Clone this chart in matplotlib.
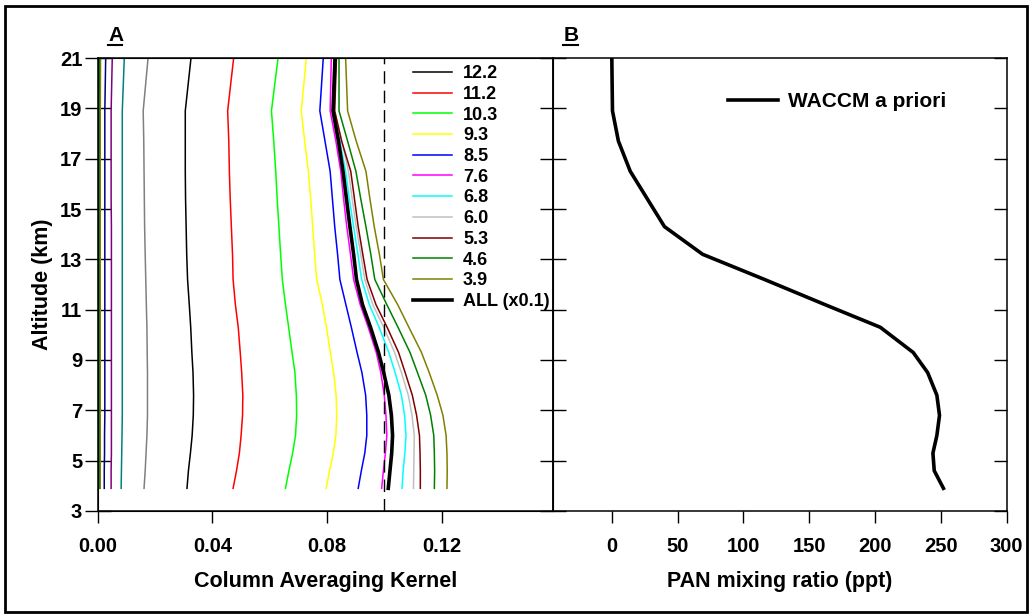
import matplotlib
matplotlib.use("Agg")
import matplotlib.pyplot as plt
from matplotlib.patches import Rectangle

plt.rcParams['font.family'] = ['Liberation Sans', 'DejaVu Sans']
plt.rcParams['font.weight'] = 'bold'

# altitude grid (km)
alt = [3.9, 4.6, 5.3, 6.0, 6.8, 7.6, 8.5, 9.3, 10.3, 11.2, 12.2, 13.2, 14.3, 15.4, 16.5, 17.7, 18.9, 21.0]

# column averaging kernels, labelled layers
layer_labels = ['12.2', '11.2', '10.3', '9.3', '8.5', '7.6', '6.8', '6.0', '5.3', '4.6', '3.9']
layer_colors = ['#000000', '#FF0000', '#00FF00', '#FFFF00', '#0000FF', '#FF00FF',
                '#00FFFF', '#C0C0C0', '#800000', '#008000', '#808000']
ak_122 = [0.0311, 0.0316, 0.0323, 0.0329, 0.0333, 0.0334, 0.0332, 0.0328, 0.0324, 0.0319, 0.0313, 0.0310, 0.0308, 0.0306, 0.0305, 0.0305, 0.0305, 0.0325]
ak_112 = [0.0472, 0.0484, 0.0494, 0.0500, 0.0505, 0.0506, 0.0502, 0.0497, 0.0490, 0.0480, 0.0472, 0.0470, 0.0466, 0.0462, 0.0459, 0.0457, 0.0453, 0.0474]
ak_103 = [0.0655, 0.0667, 0.0680, 0.0690, 0.0694, 0.0693, 0.0688, 0.0678, 0.0666, 0.0655, 0.0644, 0.0638, 0.0632, 0.0626, 0.0621, 0.0614, 0.0606, 0.0629]
ak_93 = [0.0797, 0.0809, 0.0822, 0.0831, 0.0834, 0.0832, 0.0823, 0.0812, 0.0798, 0.0784, 0.0764, 0.0757, 0.0750, 0.0743, 0.0735, 0.0722, 0.0710, 0.0728]
ak_85 = [0.0909, 0.0920, 0.0932, 0.0939, 0.0939, 0.0935, 0.0922, 0.0905, 0.0885, 0.0866, 0.0845, 0.0837, 0.0827, 0.0819, 0.0811, 0.0793, 0.0775, 0.0787]
ak_76 = [0.0991, 0.0997, 0.1004, 0.1009, 0.1006, 0.1000, 0.0988, 0.0972, 0.0944, 0.0916, 0.0893, 0.0882, 0.0869, 0.0858, 0.0848, 0.0831, 0.0811, 0.0815]
ak_68 = [0.1062, 0.1066, 0.1072, 0.1076, 0.1071, 0.1060, 0.1038, 0.1016, 0.0982, 0.0948, 0.0921, 0.0908, 0.0893, 0.0878, 0.0865, 0.0845, 0.0823, 0.0830]
ak_60 = [0.1102, 0.1103, 0.1104, 0.1105, 0.1097, 0.1084, 0.1060, 0.1036, 0.0998, 0.0960, 0.0932, 0.0918, 0.0902, 0.0888, 0.0875, 0.0852, 0.0826, 0.0832]
ak_53 = [0.1126, 0.1126, 0.1125, 0.1123, 0.1113, 0.1098, 0.1073, 0.1050, 0.1010, 0.0971, 0.0940, 0.0925, 0.0909, 0.0896, 0.0883, 0.0851, 0.0827, 0.0833]
ak_46 = [0.1175, 0.1176, 0.1175, 0.1173, 0.1162, 0.1145, 0.1116, 0.1090, 0.1048, 0.1009, 0.0967, 0.0953, 0.0936, 0.0918, 0.0901, 0.0872, 0.0842, 0.0842]
ak_39 = [0.1219, 0.1220, 0.1219, 0.1216, 0.1205, 0.1185, 0.1157, 0.1130, 0.1086, 0.1047, 0.0997, 0.0983, 0.0965, 0.0950, 0.0936, 0.0902, 0.0872, 0.0865]
# total column kernel scaled by 0.1
ak_all = [0.1014, 0.1020, 0.1026, 0.1029, 0.1025, 0.1016, 0.0998, 0.0980, 0.0952, 0.0924, 0.0903, 0.0893, 0.0880, 0.0868, 0.0856, 0.0840, 0.0821, 0.0828]

# upper layers, not in the legend
upper_colors = ['#808080', '#008080', '#800080', '#000080', '#808000', '#008000', '#800000']
ak_132 = [0.0161, 0.0165, 0.0168, 0.0171, 0.0173, 0.0173, 0.0173, 0.0172, 0.0171, 0.0169, 0.0167, 0.0165, 0.0163, 0.0162, 0.0161, 0.0160, 0.0158, 0.0175]
ak_143 = [0.0081, 0.0082, 0.0083, 0.0084, 0.0085, 0.0085, 0.0085, 0.0085, 0.0085, 0.0085, 0.0085, 0.0085, 0.0085, 0.0085, 0.0085, 0.0085, 0.0085, 0.0092]
ak_154 = [0.0046, 0.0046, 0.0047, 0.0047, 0.0047, 0.0047, 0.0047, 0.0047, 0.0047, 0.0047, 0.0047, 0.0047, 0.0047, 0.0046, 0.0046, 0.0046, 0.0046, 0.0050]
ak_165 = [0.0022, 0.0022, 0.0023, 0.0023, 0.0024, 0.0024, 0.0024, 0.0024, 0.0024, 0.0024, 0.0024, 0.0024, 0.0024, 0.0024, 0.0024, 0.0024, 0.0024, 0.0027]
ak_177 = [0.0008] * 17 + [0.0009]
ak_189 = [0.0004] * 17 + [0.0005]
ak_210 = [0.0001] * 18

# WACCM a priori PAN (ppt)
pan = [252, 245, 244, 247, 249, 247, 240, 229, 204, 162, 116, 69, 40, 27, 14, 5, 0.5, 0]

layer_sets = [ak_122, ak_112, ak_103, ak_93, ak_85, ak_76, ak_68, ak_60, ak_53, ak_46, ak_39]
upper_sets = [ak_132, ak_143, ak_154, ak_165, ak_177, ak_189, ak_210]

PX = 0.72  # points per pixel at 100 dpi

fig = plt.figure(figsize=(10.3, 6.16), dpi=100)
axA = fig.add_axes([0.0951, 0.1705, 0.4414, 0.7353])
axB = fig.add_axes([0.5365, 0.1705, 0.4408, 0.7353])

for vals, col in zip(upper_sets, upper_colors):
    axA.plot(vals, alt, color=col, lw=1.1)
for vals, col, lab in zip(layer_sets, layer_colors, layer_labels):
    axA.plot(vals, alt, color=col, lw=1.1, label=lab)
axA.plot(ak_all, alt, color='black', lw=2.6, label='ALL (x0.1)')
axA.axvline(0.10, color='black', lw=1.0, dashes=(9, 5))

axA.set_xlim(0, 0.1588)
axA.set_ylim(3, 21)
axA.set_xticks([0, 0.04, 0.08, 0.12])
axA.set_xticklabels(['0.00', '0.04', '0.08', '0.12'])
axA.set_yticks(range(3, 22, 2))
axA.set_xlabel('Column Averaging Kernel', fontsize=15.5, fontweight='bold', labelpad=11)
axA.set_ylabel('Altitude (km)', fontsize=15.5, fontweight='bold', labelpad=5)
axA.tick_params(axis='x', direction='out', length=12 * PX, width=1, labelsize=14.5, pad=10)
axA.tick_params(axis='y', direction='inout', length=26 * PX, width=1, labelsize=14.5, pad=2,
                left=True, right=False)
leg = axA.legend(loc='upper left', bbox_to_anchor=(0.692, 0.984), frameon=False, fontsize=13,
                 handlelength=2.2, labelspacing=0.205, handletextpad=0.6,
                 borderpad=0, borderaxespad=0)

axB.plot(pan, alt, color='black', lw=2.6, label='WACCM a priori')
axB.set_xlim(-45, 300)
axB.set_ylim(3, 21)
axB.set_xticks([0, 50, 100, 150, 200, 250, 300])
axB.set_yticks(range(3, 22, 2))
axB.set_xlabel('PAN mixing ratio (ppt)', fontsize=15.5, fontweight='bold', labelpad=11)
axB.tick_params(axis='x', direction='out', length=12 * PX, width=1, labelsize=14.5, pad=10)
axB.yaxis.set_tick_params(which='both', direction='in', length=13 * PX, width=1,
                          left=True, right=True, labelleft=False, labelright=False)
axB.legend(loc='upper left', bbox_to_anchor=(0.386, 0.925), frameon=False, fontsize=15,
           handlelength=2.4, handletextpad=0.5, borderpad=0, borderaxespad=0)

# inward ticks on the right side of panel A
axA2 = axA.twinx()
axA2.set_ylim(3, 21)
axA2.set_yticks(range(3, 22, 2))
axA2.tick_params(axis='y', direction='in', length=13 * PX, width=1, labelright=False)

for ax in (axA, axB):
    for sp in ax.spines.values():
        sp.set_linewidth(1.1)
    for t in ax.get_xticklabels() + ax.get_yticklabels():
        t.set_fontweight('bold')

axA.text(0.023, 1.0375, 'A', transform=axA.transAxes, fontsize=15, fontweight='bold',
         ha='left', va='baseline')
axB.text(0.024, 1.0375, 'B', transform=axB.transAxes, fontsize=15, fontweight='bold',
         ha='left', va='baseline')
# underline the panel letters
for xs in ((0.1049, 0.1184), (0.5466, 0.5612)):
    fig.add_artist(plt.Line2D(xs, [0.9270, 0.9270], color='black', lw=1.5))

# frame around the whole figure
fig.add_artist(Rectangle((0.005, 0.006), 0.992, 0.984, transform=fig.transFigure,
                         fill=False, edgecolor='black', lw=2))

fig.savefig('out.png', dpi=100)
